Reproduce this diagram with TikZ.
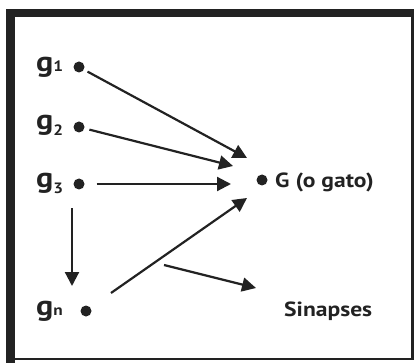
\documentclass[tikz,border=0pt]{standalone}
\usepackage{fontspec}
\setmainfont{PT Sans}[FakeStretch=1.15]
\usetikzlibrary{arrows.meta}
\definecolor{ink}{HTML}{222222}
\newcommand{\gname}[2]{g\raisebox{#2}{\fontsize{15}{15}\selectfont #1}}
\tikzset{
	dot/.style={circle, fill=ink, inner sep=0pt, minimum size=11pt},
	glabel/.style={anchor=base west, inner sep=0pt, text=ink,
		font=\fontsize{28}{28}\selectfont\bfseries},
	word/.style={anchor=base west, inner sep=0pt, text=ink,
		font=\fontsize{20.5}{20.5}\selectfont\bfseries},
	link/.style={-{Triangle[length=14pt, width=14pt]}, line width=2.2pt, draw=ink}
}
\begin{document}
\begin{tikzpicture}[x=1pt, y=-1pt]
		\useasboundingbox (0, 0) rectangle (414, 363);

		% Frame
		\fill[ink] (6, 9) rectangle (414, 17);
		\fill[ink] (6, 9) rectangle (15, 363);
		\draw[ink, line width=2.5pt] (15, 359) -- (412.5, 359) -- (412.5, 17);

		% Neurons g
		\node[glabel] (l1) at (36, 72) {\gname{1}{0pt}};
		\node[glabel] (l2) at (36, 130) {\gname{2}{-6pt}};
		\node[glabel] (l3) at (36, 187) {\gname{3}{-6pt}};
		\node[glabel] (ln) at (36, 315) {\gname{n}{0pt}};

		\node[dot] (g1) at (79, 67) {};
		\node[dot] (g2) at (79, 127) {};
		\node[dot] (g3) at (79, 184) {};
		\node[dot] (gn) at (86, 311) {};

		% G
		\node[dot] (G) at (262, 180) {};
		\node[word] (cat) at (275, 187) {G (o gato)};
		\node[word] (syn) at (284, 316) {Sinapses};

		% Arrow ends
		\coordinate (t1) at (247, 158);
		\coordinate (t2) at (233, 166);
		\coordinate (t3) at (231, 184);
		\coordinate (s4) at (72, 208);
		\coordinate (t4) at (72, 286);
		\coordinate (s5) at (111, 293);
		\coordinate (t5) at (247, 198);
		\coordinate (s6) at (164, 265);
		\coordinate (t6) at (256, 288);

		\draw[link, shorten <=4pt] (g1) -- (t1);
		\draw[link, shorten <=5pt] (g2) -- (t2);
		\draw[link, shorten <=12pt] (g3) -- (t3);
		\draw[link] (s4) -- (t4);
		\draw[link] (s5) -- (t5);
		\draw[link] (s6) -- (t6);
	\end{tikzpicture}
\end{document}
